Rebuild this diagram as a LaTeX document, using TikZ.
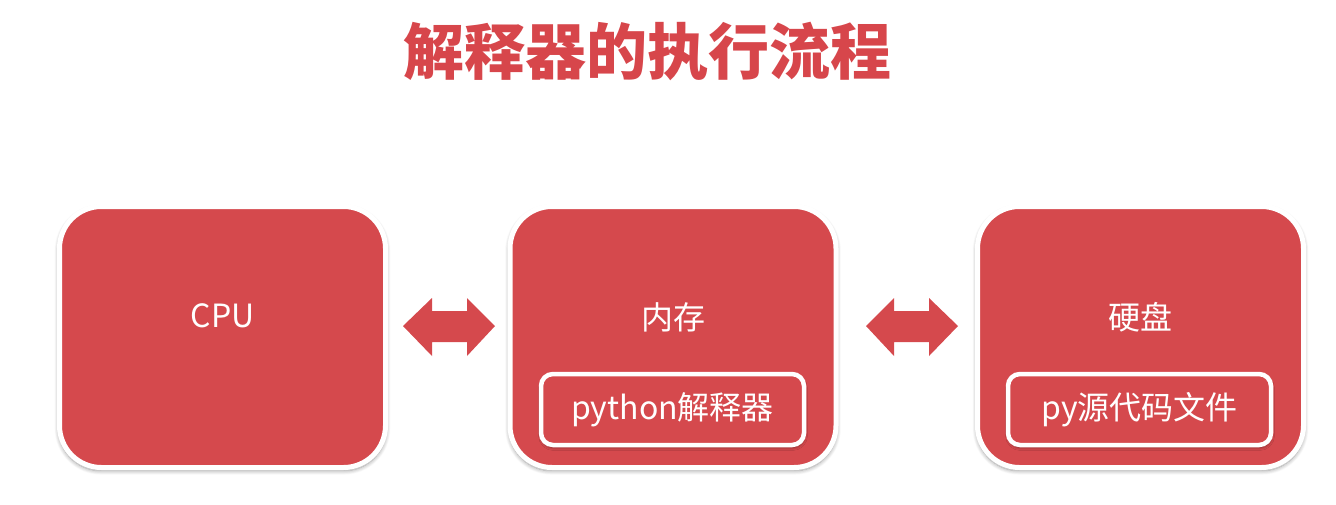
\documentclass[tikz,border=0pt]{standalone}
\usepackage{fontspec}
\setmainfont{Noto Sans CJK SC}
\usetikzlibrary{shadows.blur}
\definecolor{boxred}{HTML}{D5494D}
\definecolor{titlered}{HTML}{D7464B}
\tikzset{
  bigbox/.style={rounded corners=42pt, fill=boxred, draw=white, line width=5pt,
    minimum width=326pt, minimum height=261pt,
    blur shadow={shadow blur steps=8, shadow blur radius=4pt, shadow scale=1.006, shadow xshift=0pt, shadow yshift=-2.5pt, shadow opacity=40}},
  innerbox/.style={rounded corners=12pt, fill=boxred, draw=white, line width=4.5pt,
    minimum width=263pt, minimum height=71pt, text=white, font=\fontsize{32}{38}\selectfont,
    blur shadow={shadow blur steps=5, shadow blur radius=3pt, shadow xshift=0.5pt, shadow yshift=-2.5pt, shadow opacity=40}},
  boxlabel/.style={text=white, font=\fontsize{32}{38}\selectfont, inner sep=0pt},
  dblarrow/.style={fill=boxred, draw=none}
}
\begin{document}
\begin{tikzpicture}[x=1pt,y=-1pt]
\useasboundingbox (0,0) rectangle (1336,504);
\node[text=titlered, font=\bfseries\fontsize{61}{70}\selectfont, inner sep=0pt] (title) at (647.5,51) {解释器的执行流程};

\node[bigbox] (cpu) at (222.5,337) {};
\node[bigbox] (mem) at (673,337) {};
\node[bigbox] (disk) at (1140.5,337) {};

\node[boxlabel] (cpulabel) at (222.5,316) {CPU};
\node[boxlabel] (memlabel) at (673,317) {内存};
\node[boxlabel] (disklabel) at (1140.5,317) {硬盘};

\node[innerbox] (interp) at (672.5,409.5) {python解释器};
\node[innerbox] (src) at (1139.5,409.5) {py源代码文件};

\coordinate (a1) at (449,326);
\coordinate (a2) at (912,326);
\fill[dblarrow] (a1) ++(-46,0) -- ++(29,-28) -- ++(0,13) -- ++(35,0) -- ++(0,-13) -- ++(28,28)
  -- ++(-28,30) -- ++(0,-14) -- ++(-35,0) -- ++(0,14) -- cycle;
\fill[dblarrow] (a2) ++(-46,0) -- ++(28,-28) -- ++(0,13) -- ++(35,0) -- ++(0,-13) -- ++(29,28)
  -- ++(-29,30) -- ++(0,-14) -- ++(-35,0) -- ++(0,14) -- cycle;
\end{tikzpicture}
\end{document}
